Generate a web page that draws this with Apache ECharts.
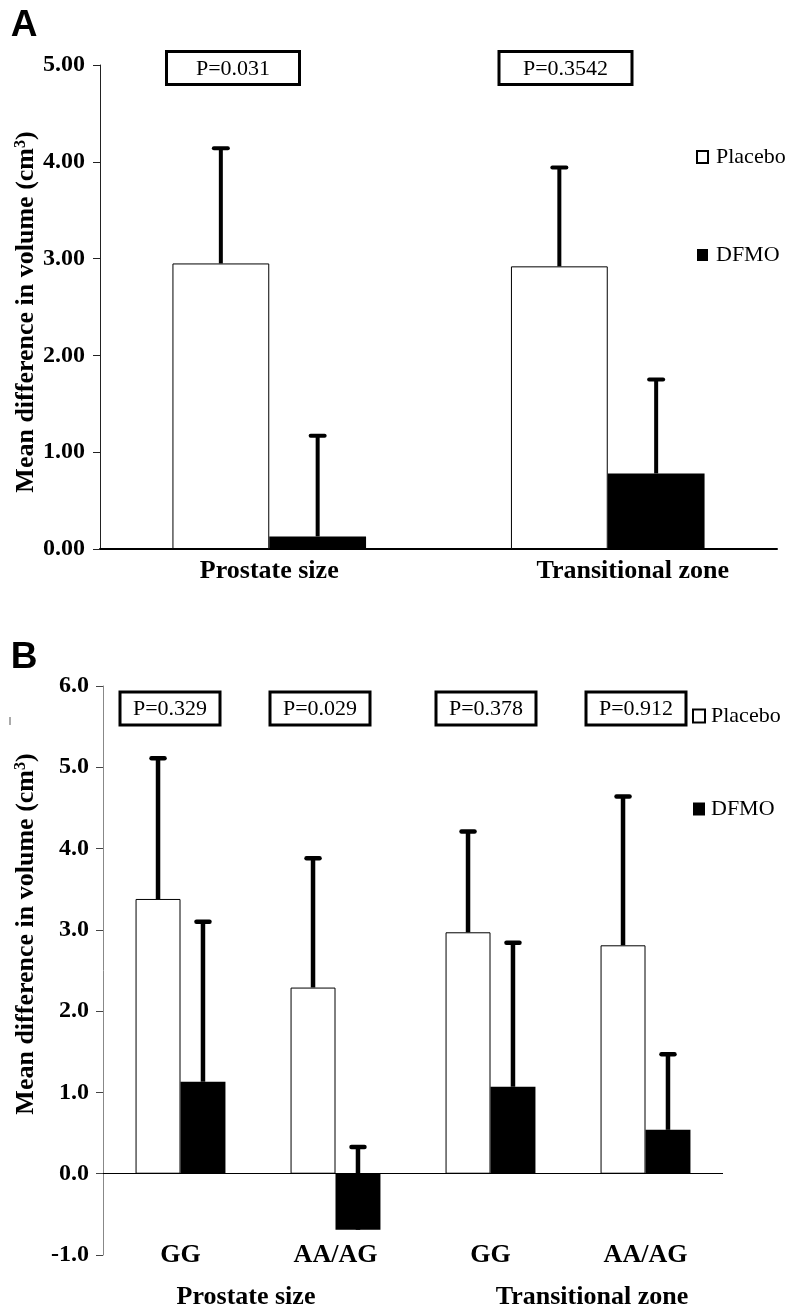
<!DOCTYPE html>
<html>
<head>
<meta charset="utf-8">
<script src="https://cdn.jsdelivr.net/npm/echarts@6/dist/echarts.min.js"></script>
<style>html,body{margin:0;padding:0;background:#fff}#c{width:800px;height:1314px}</style>
</head>
<body>
<div id="c"></div>
<script>
// ---- Panel A data ----
const aCategories = ['Prostate size', 'Transitional zone'];
const aPlacebo = [2.95, 2.92];
const aPlaceboUpper = [4.14, 3.94];
const aDFMO = [0.13, 0.78];
const aDFMOUpper = [1.17, 1.75];
const aPValues = ['P=0.031', 'P=0.3542'];

// ---- Panel B data ----
const bCategories = ['GG', 'AA/AG', 'GG', 'AA/AG'];
const bGroups = ['Prostate size', 'Transitional zone'];
const bPlacebo = [3.38, 2.29, 2.97, 2.81];
const bPlaceboUpper = [5.11, 3.88, 4.21, 4.64];
const bDFMO = [1.13, -0.69, 1.07, 0.54];
const bDFMOUpper = [3.10, 0.33, 2.84, 1.47];
const bPValues = ['P=0.329', 'P=0.029', 'P=0.378', 'P=0.912'];

const seriesNames = ['Placebo', 'DFMO'];
const yTitle = 'Mean difference in volume (cm{sup|3})';

const SERIF = '"Liberation Serif", "Times New Roman", serif';
const SANS = '"Liberation Sans", Arial, sans-serif';

const A_BW = 0.286, B_BW = 0.29;

function errRender(pct, sign, capW, lw) {
  return function (params, api) {
    const cat = api.value(0), lo = api.value(1), hi = api.value(2);
    const band = api.size([1, 0])[0];
    const dx = sign * band * pct / 2;
    const p0 = api.coord([cat, lo]);
    const p1 = api.coord([cat, hi]);
    const x = p0[0] + dx;
    return {
      type: 'group',
      children: [
        { type: 'line', shape: { x1: x, y1: p0[1], x2: x, y2: p1[1] }, style: { stroke: '#000', lineWidth: lw } },
        { type: 'line', shape: { x1: x - capW / 2, y1: p1[1], x2: x + capW / 2, y2: p1[1] }, style: { stroke: '#000', lineWidth: lw, lineCap: 'round' } }
      ]
    };
  };
}

const bKeys = bCategories.map((c, i) => i + '|' + c);

function pBox(cx, cy, w, h, text) {
  return {
    type: 'group',
    children: [
      { type: 'rect', shape: { x: cx - w / 2, y: cy - h / 2, width: w, height: h }, style: { fill: '#fff', stroke: '#000', lineWidth: 3 } },
      { type: 'text', x: cx, y: cy + 1, style: { text: text, font: '22px ' + SERIF, fill: '#000', align: 'center', verticalAlign: 'middle' } }
    ]
  };
}

const aBoxPos = [[233, 68], [565.5, 68]];
const bBoxPos = [[170, 708.5], [320, 708.5], [486, 708.5], [636, 708.5]];

const supStyle = { fontSize: 16, fontWeight: 'bold', fontFamily: SERIF, verticalAlign: 'top', padding: [0, 0, 10, 0] };
const graphics = [
  { type: 'text', x: 24, y: 26, style: { text: 'A', font: 'bold 37px ' + SANS, fill: '#000', align: 'center', verticalAlign: 'middle' } },
  { type: 'text', x: 24, y: 658, style: { text: 'B', font: 'bold 37px ' + SANS, fill: '#000', align: 'center', verticalAlign: 'middle' } },
  { type: 'text', x: 26, y: 312, rotation: Math.PI / 2, style: { text: yTitle, font: 'bold 26px ' + SERIF, fill: '#000', align: 'center', verticalAlign: 'middle', rich: { sup: supStyle } } },
  { type: 'text', x: 26, y: 934, rotation: Math.PI / 2, style: { text: yTitle, font: 'bold 26px ' + SERIF, fill: '#000', align: 'center', verticalAlign: 'middle', rich: { sup: supStyle } } },
  { type: 'text', x: 246, y: 1297, style: { text: bGroups[0], font: 'bold 26px ' + SERIF, fill: '#000', align: 'center', verticalAlign: 'middle' } },
  { type: 'text', x: 592, y: 1297, style: { text: bGroups[1], font: 'bold 26px ' + SERIF, fill: '#000', align: 'center', verticalAlign: 'middle' } },
  { type: 'rect', shape: { x: 9, y: 717, width: 2, height: 8 }, style: { fill: '#aaa' } }
];
aPValues.forEach((t, i) => graphics.push(pBox(aBoxPos[i][0], aBoxPos[i][1], 133, 33, t)));
bPValues.forEach((t, i) => graphics.push(pBox(bBoxPos[i][0], bBoxPos[i][1], 100, 33, t)));

const chart = echarts.init(document.getElementById('c'), null, { renderer: 'canvas' });
chart.setOption({
  animation: false,
  backgroundColor: '#fff',
  grid: [
    { left: 100, right: 23, top: 65, height: 484, containLabel: false },
    { left: 103, right: 77, top: 686, height: 569, containLabel: false }
  ],
  legend: [
    {
      data: seriesNames, orient: 'vertical', left: 691, top: 141, itemGap: 76,
      itemWidth: 11, itemHeight: 12, selectedMode: false, icon: 'rect',
      textStyle: { fontFamily: SERIF, fontSize: 22, color: '#000', padding: [0, 0, 0, 3] }
    },
    {
      data: seriesNames, orient: 'vertical', left: 687, top: 700, itemGap: 71,
      itemWidth: 12, itemHeight: 13, selectedMode: false, icon: 'rect',
      textStyle: { fontFamily: SERIF, fontSize: 22, color: '#000', padding: [0, 0, 0, 1] }
    }
  ],
  xAxis: [
    {
      gridIndex: 0, type: 'category',
      data: aCategories.map((c, i) => i === 1 ? { value: c, textStyle: { padding: [0, 0, 0, 50] } } : c),
      axisTick: { show: false },
      axisLine: { lineStyle: { color: '#000', width: 2 } },
      axisLabel: { interval: 0, margin: 9, fontFamily: SERIF, fontWeight: 'bold', fontSize: 26, color: '#000' }
    },
    {
      gridIndex: 1, type: 'category', data: bKeys,
      axisTick: { show: false },
      axisLine: { show: false, onZero: false },
      axisLabel: {
        interval: 0, margin: 0, verticalAlign: 'middle', fontFamily: SERIF, fontWeight: 'bold', fontSize: 26, color: '#000',
        formatter: v => v.split('|')[1]
      }
    }
  ],
  yAxis: [
    {
      gridIndex: 0, type: 'value', min: 0, max: 5, interval: 1,
      axisLine: { show: true, lineStyle: { color: '#222', width: 1 } },
      axisTick: { show: true, length: 7, lineStyle: { color: '#222' } },
      splitLine: { show: false },
      axisLabel: { margin: 15, formatter: v => v.toFixed(2), fontFamily: SERIF, fontWeight: 'bold', fontSize: 24, color: '#000' }
    },
    {
      gridIndex: 1, type: 'value', min: -1, max: 6, interval: 1,
      axisLine: { show: true, lineStyle: { color: '#888', width: 1 } },
      axisTick: { show: true, length: 7, lineStyle: { color: '#444' } },
      splitLine: { show: false },
      axisLabel: { margin: 14, formatter: v => v.toFixed(1), fontFamily: SERIF, fontWeight: 'bold', fontSize: 24, color: '#000' }
    }
  ],
  series: [
    {
      name: 'Placebo', type: 'bar', xAxisIndex: 0, yAxisIndex: 0, data: aPlacebo,
      barWidth: (A_BW * 100) + '%', barGap: '0%',
      itemStyle: { color: '#fff', borderColor: '#000', borderWidth: 1 }
    },
    {
      name: 'DFMO', type: 'bar', xAxisIndex: 0, yAxisIndex: 0, data: aDFMO,
      barWidth: (A_BW * 100) + '%', barGap: '0%',
      itemStyle: { color: '#000' }
    },
    {
      name: 'Placebo', type: 'bar', xAxisIndex: 1, yAxisIndex: 1, data: bPlacebo,
      barWidth: (B_BW * 100) + '%', barGap: '0%',
      itemStyle: { color: '#fff', borderColor: '#000', borderWidth: 1 },
      markLine: {
        silent: true, symbol: ['none', 'none'], label: { show: false },
        lineStyle: { color: '#000', width: 1, type: 'solid' },
        data: [{ yAxis: 0 }]
      }
    },
    {
      name: 'DFMO', type: 'bar', xAxisIndex: 1, yAxisIndex: 1, data: bDFMO,
      barWidth: (B_BW * 100) + '%', barGap: '0%',
      itemStyle: { color: '#000' }
    },
    {
      type: 'custom', xAxisIndex: 0, yAxisIndex: 0, z: 5, silent: true,
      renderItem: errRender(A_BW, -1, 14, 4),
      data: aPlacebo.map((v, i) => [i, v, aPlaceboUpper[i]])
    },
    {
      type: 'custom', xAxisIndex: 0, yAxisIndex: 0, z: 5, silent: true,
      renderItem: errRender(A_BW, 1, 14, 4),
      data: aDFMO.map((v, i) => [i, v, aDFMOUpper[i]])
    },
    {
      type: 'custom', xAxisIndex: 1, yAxisIndex: 1, z: 5, silent: true,
      renderItem: errRender(B_BW, -1, 13, 4.5),
      data: bPlacebo.map((v, i) => [i, v, bPlaceboUpper[i]])
    },
    {
      type: 'custom', xAxisIndex: 1, yAxisIndex: 1, z: 5, silent: true,
      renderItem: errRender(B_BW, 1, 13, 4.5),
      data: bDFMO.map((v, i) => [i, v, bDFMOUpper[i]])
    }
  ],
  graphic: graphics
});
</script>
</body>
</html>
